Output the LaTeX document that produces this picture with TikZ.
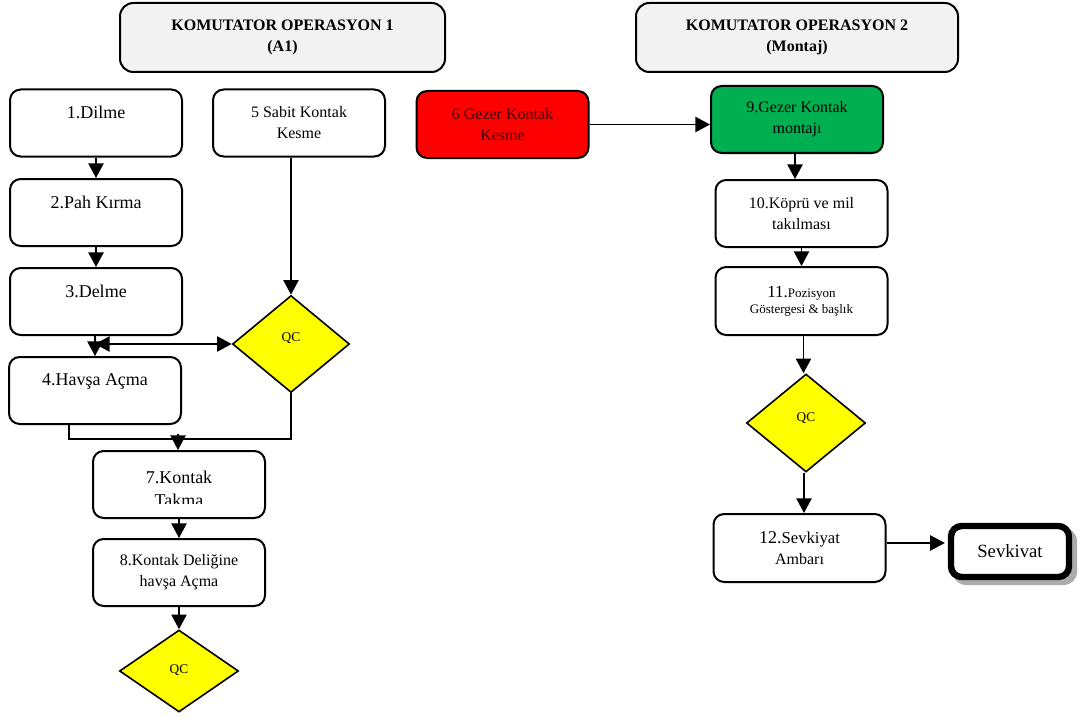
\documentclass[tikz,border=0pt]{standalone}
\usepackage{fontspec}
\setmainfont{Liberation Serif}
\usetikzlibrary{arrows.meta,shapes.geometric,calc,shadows}

\newcommand\fbig{\fontsize{13.5pt}{15.75pt}\selectfont}
\newcommand\fmid{\fontsize{12pt}{15.75pt}\selectfont}
\newcommand\fsml{\fontsize{9.75pt}{15pt}\selectfont}
\newcommand\fqc{\fontsize{10pt}{12pt}\selectfont}

\definecolor{hdrgray}{HTML}{F2F2F2}
\definecolor{cutred}{HTML}{FF0000}
\definecolor{asmgreen}{HTML}{00B050}
\definecolor{qcyellow}{HTML}{FFFF00}
\definecolor{redtext}{HTML}{3A0000}

\begin{document}
\begin{tikzpicture}[x=0.75pt,y=-0.75pt,
  proc/.style={draw, line width=1.5pt, rounded corners=8pt, fill=white,
    align=center, inner sep=0pt, minimum width=129pt, minimum height=50.25pt},
  header/.style={draw, line width=1.5pt, rounded corners=10pt, fill=hdrgray,
    align=center, inner sep=0pt, minimum height=51.75pt,
    font=\fmid\bfseries},
  qc/.style={draw, diamond, line width=1.2pt, fill=qcyellow, inner sep=0pt},
  qctext/.style={font=\fqc, inner sep=0pt},
  conn/.style={line width=1.1pt},
  arr/.style={conn, -{Triangle[length=11pt,width=11.5pt]}},
  dblarr/.style={conn, {Triangle[length=11pt,width=11.5pt]}-{Triangle[length=11pt,width=11.5pt]}}
]
\useasboundingbox (0,0) rectangle (1079,717);

% section headers
\node[header, minimum width=243.75pt] (h1) at (282.5,37.5) {KOMUTATOR OPERASYON 1\\(A1)};
\node[header, minimum width=241.5pt] (h2) at (797,37.5) {KOMUTATOR OPERASYON 2\\(Montaj)};

% operation 1, main column
\node[proc, font=\fbig] (n1) at (96,123) {1.Dilme\\\mbox{}};
\node[proc, font=\fbig] (n2) at (96,212.5) {2.Pah Kırma\\\mbox{}};
\node[proc, font=\fbig] (n3) at (96,301.5) {3.Delme\\\mbox{}};
\node[proc, font=\fbig] (n4) at (95,390.5) {4.Havşa Açma\\\mbox{}};

% fixed contact branch
\node[proc, font=\fmid] (n5) at (299,123) {5 Sabit Kontak\\Kesme};
\node[qc, minimum width=87.75pt, minimum height=72.75pt] (qc1) at (291,344) {};
\node[qctext] (qc1t) at (291,338) {QC};

% contact fitting (second line of the label is cut by the box)
\node[proc, minimum height=50.25pt] (n7) at (179,484.5) {};
\begin{scope}
  \clip (93,445) rectangle (265,503);
  \node[font=\fontsize{13.5pt}{17.25pt}\selectfont, align=center, inner sep=0pt] (n7t) at (179,489) {7.Kontak\\Takma};
\end{scope}
\node[proc, font=\fmid] (n8) at (179,572.5) {8.Kontak Deliğine\\havşa Açma};
\node[qc, minimum width=89.25pt, minimum height=61.5pt] (qc3) at (179,671) {};
\node[qctext] (qc3t) at (179,670) {QC};

% moving contact cutting
\node[proc, fill=cutred, font=\fmid, text=redtext] (n6) at (502.5,124.5) {6 Gezer Kontak\\Kesme};

% operation 2, assembly column
\node[proc, fill=asmgreen, font=\fmid] (n9) at (797,119.5) {9.Gezer Kontak\\montajı};
\node[proc, font=\fmid] (n10) at (801.5,213.5) {10.Köprü ve mil\\takılması};
\node[proc, minimum height=51pt] (n11) at (801.5,301)
  {{\fontsize{12.75pt}{15pt}\selectfont 11.}{\fsml Pozisyon}\\{\fsml Göstergesi \& başlık}};
\node[qc, minimum width=89.25pt, minimum height=73.5pt] (qc2) at (806,423) {};
\node[qctext] (qc2t) at (806,418) {QC};
\node[proc, minimum height=51pt, font=\fmid] (n12) at (799.5,548)
  {{\fontsize{13.5pt}{15pt}\selectfont 12.}{\fontsize{12.5pt}{15pt}\selectfont Sevkiyat}\\Ambarı};

% shipping terminal
\node[draw, line width=4.8pt, rounded corners=8pt, fill=white, inner sep=0pt,
  minimum width=88.5pt, minimum height=38.25pt, font=\fontsize{14pt}{16pt}\selectfont,
  drop shadow={shadow xshift=3.75pt, shadow yshift=-3.75pt, fill=gray!65,
    draw=gray!65, line width=4.8pt, opacity=1}]
  (sev) at (1010,551.5) {Sevkivat};

% connectors, operation 1
\draw[arr] (n1.south) -- (n1.south |- n2.north);
\draw[arr] (n2.south) -- (n2.south |- n3.north);
\draw[arr] (n3.south -| n4.south) -- (n4.north);
\draw[dblarr] (n4.north |- qc1.west) -- (qc1.west);
\draw[arr] (qc1.north |- n5.south) -- (qc1.north);
\draw[conn] ($(n4.south)+(-26,0)$) -- ++(0,14) -| (qc1.south);
\draw[arr] ($(n7.north)+(-1,-16)$) -- ($(n7.north)+(-1,0)$);
\draw[arr] (n7.south) -- (n8.north);
\draw[arr] (n8.south) -- (qc3.north);

% connectors, operation 2
\draw[arr] (n6.east) -- (n6.east -| n9.west);
\draw[arr] ($(n9.south)+(-2,0)$) -- ($(n9.south |- n10.north)+(-2,0)$);
\draw[arr] (n10.south) -- (n11.north);
\draw[arr] ($(n11.south)+(2,0)$) -- ($(n11.south |- qc2.north)+(2,0)$);
\draw[arr] ($(qc2.south)+(-2,0)$) -- ($(qc2.south |- n12.north)+(-2,0)$);
\draw[arr] ($(n12.east)+(0,-5)$) -- ($(n12.east -| sev.west)+(-3,-5)$);
\end{tikzpicture}
\end{document}
